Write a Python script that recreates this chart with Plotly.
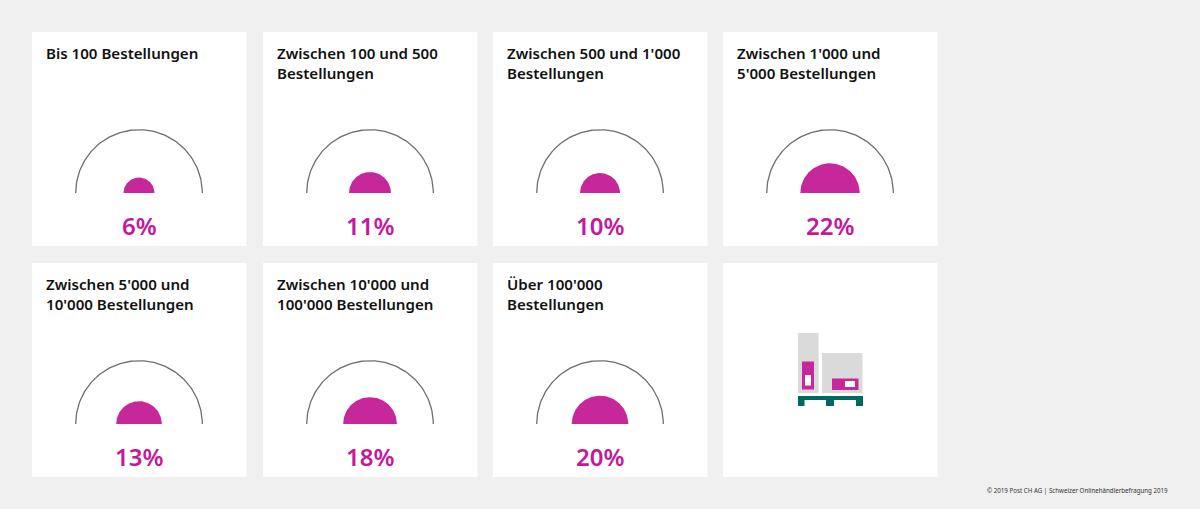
import numpy as np
import plotly.graph_objects as go

titles = ["Bis 100 Bestellungen", "Zwischen 100 und 500<br>Bestellungen",
          "Zwischen 500 und 1'000<br>Bestellungen", "Zwischen 1'000 und<br>5'000 Bestellungen",
          "Zwischen 5'000 und<br>10'000 Bestellungen", "Zwischen 10'000 und<br>100'000 Bestellungen",
          "Über 100'000<br>Bestellungen"]
shares = [6, 11, 10, 22, 13, 18, 20]
footer = "© 2019 Post CH AG | Schweizer Onlinehändlerbefragung 2019"

W, H = 1200, 509
BG = "#f0f0f0"
MAG = "#c6289c"
MAGT = "#c4189c"
GREY = "#dadada"
TEAL = "#00695f"
card_x = [32, 263, 493, 723]
card_y = [32, 263]
CW, CH = 214.5, 214
BASE = 161
OUTER = 63.3
FONT = "Noto Sans"

fig = go.Figure()
shapes = []
annots = []


def rect(x0, y0, x1, y1, c):
    shapes.append(dict(type="rect", xref="x", yref="y", x0=x0, y0=y0, x1=x1, y1=y1,
                       fillcolor=c, line_width=0, layer="below"))


slots = [(c, r) for r in range(2) for c in range(4)]
for (c, r) in slots:
    rect(card_x[c], card_y[r], card_x[c] + CW, card_y[r] + CH, "white")

t = np.linspace(np.pi, 0, 121)
for i, (title, v) in enumerate(zip(titles, shares)):
    c, r = slots[i]
    x0, y0 = card_x[c], card_y[r]
    cx, cy = x0 + 107, y0 + BASE
    fig.add_trace(go.Scatter(x=cx + OUTER * np.cos(t), y=cy - OUTER * np.sin(t), mode="lines",
                             line=dict(color="#6f6f6f", width=1.3), hoverinfo="skip", showlegend=False))
    rad = OUTER * np.sqrt(v / 100)
    fig.add_trace(go.Scatter(x=cx + rad * np.cos(t), y=cy - rad * np.sin(t), mode="lines", fill="toself",
                             fillcolor=MAG, line=dict(color=MAG, width=0), name=title.replace("<br>", " "),
                             showlegend=False, text=f"{v}%", hoverinfo="text"))
    annots.append(dict(x=x0 + 11.5, y=y0 + 9, xanchor="left", yanchor="top", align="left", text=title,
                       showarrow=False, xref="x", yref="y",
                       font=dict(family=FONT, size=15.1, color="#111111", weight=600)))
    annots.append(dict(x=cx, y=y0 + 193, xanchor="center", yanchor="middle", text=f"{v}%",
                       showarrow=False, xref="x", yref="y",
                       font=dict(family=FONT, size=24, color=MAGT, weight=600)))

# pictogram in the last card
rect(798, 333, 818.5, 393, GREY)
rect(822, 353, 862.5, 393, GREY)
rect(802, 361.5, 814, 389.5, MAG)
rect(805, 375, 811, 385.5, "white")
rect(832, 378.5, 858.5, 390, MAG)
rect(845, 381, 855, 387, "white")
rect(798, 396, 863, 400, TEAL)
rect(798, 396, 804.5, 406, TEAL)
rect(826, 396, 834, 406, TEAL)
rect(856, 396, 863, 406, TEAL)

annots.append(dict(x=1170, y=490.5, xanchor="right", yanchor="middle", text=footer, showarrow=False,
                   xref="x", yref="y", font=dict(family=FONT, size=6.2, color="#333333")))

fig.update_layout(width=W, height=H, autosize=False, margin=dict(l=0, r=0, t=0, b=0),
                  paper_bgcolor=BG, plot_bgcolor=BG, shapes=shapes, annotations=annots, showlegend=False,
                  xaxis=dict(range=[0, W], visible=False, fixedrange=True),
                  yaxis=dict(range=[H, 0], visible=False, fixedrange=True))
fig.write_html("out.html", config=dict(displayModeBar=False),
               post_script="document.documentElement.style.overflow='hidden';"
                           "document.body.style.margin='0';document.body.style.background='#f0f0f0';")
